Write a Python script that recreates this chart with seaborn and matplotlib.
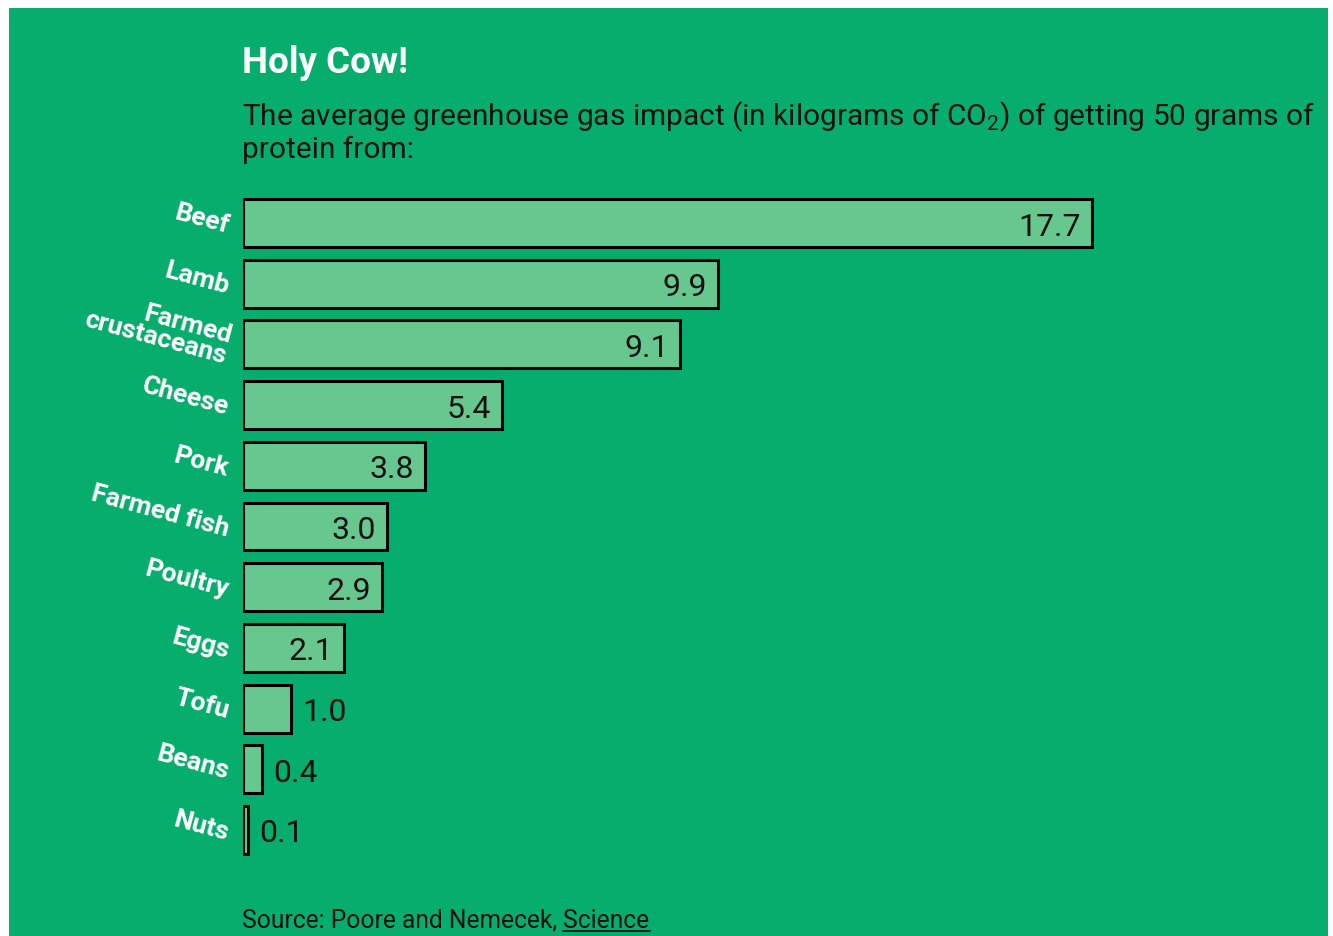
import matplotlib.pyplot as plt
import seaborn as sns
from matplotlib.patches import Rectangle
from matplotlib.lines import Line2D

# Data
foods = ["Beef", "Lamb", "Farmed\ncrustaceans", "Cheese", "Pork", "Farmed fish",
         "Poultry", "Eggs", "Tofu", "Beans", "Nuts"]
co2 = [17.7, 9.9, 9.1, 5.4, 3.8, 3.0, 2.9, 2.1, 1.0, 0.4, 0.1]
inside_min = 2.0  # values at or above this get their label inside the bar

title = "Holy Cow!"
subtitle_1 = "The average greenhouse gas impact (in kilograms of CO$_\\mathregular{2}$) of getting 50 grams of"
subtitle_2 = "protein from:"
source_txt = "Source: Poore and Nemecek, "
source_link = "Science"

# Style
sns.set_style("white")
plt.rcParams["font.family"] = ["Roboto", "DejaVu Sans"]

BG = "#07ad6c"
BAR = "#66c78f"
W, H = 1333, 937

fig = plt.figure(figsize=(W / 100, H / 100), dpi=100, facecolor="white")
fig.patches.append(Rectangle((9 / W, 0), (1328 - 9) / W, 1 - 9 / H,
                             transform=fig.transFigure, facecolor=BG,
                             edgecolor="none", zorder=-5))

# axes: x=0 at px 243, 47.97 px per unit; rows 60.7 px apart, first centre at 224
px_unit = 47.97
ax_left, ax_right = 243, 1320
row = 60.7
top_px = 224 - row / 2
bot_px = 831 + row / 2
ax = fig.add_axes([ax_left / W, 1 - bot_px / H, (ax_right - ax_left) / W, (bot_px - top_px) / H])
ax.set_facecolor("none")

sns.barplot(x=co2, y=foods, orient="h", color=BAR, saturation=1, edgecolor="black",
            linewidth=2.2, width=0.79, errorbar=None, ax=ax)

ax.set_xlim(0, (ax_right - ax_left) / px_unit)
ax.set_ylim(len(foods) - 0.5, -0.5)
ax.set_xticks([])
for s in ax.spines.values():
    s.set_visible(False)
ax.set_xlabel("")
ax.set_ylabel("")
ax.tick_params(axis="y", length=0, pad=10)
for lab in ax.get_yticklabels():
    lab.set_rotation(-15)
    lab.set_rotation_mode("anchor")
    lab.set_ha("right")
    lab.set_va("center_baseline")
    lab.set_multialignment("right")
    lab.set_linespacing(0.85)
    lab.set_color("white")
    lab.set_fontweight("bold")
    lab.set_fontsize(19)

for i, v in enumerate(co2):
    if v >= inside_min:
        ax.annotate(f"{v:.1f}", xy=(v, i), xytext=(-11, 0), textcoords="offset pixels",
                    ha="right", va="center_baseline", fontsize=23, color="#111111")
    else:
        ax.annotate(f"{v:.1f}", xy=(v, i), xytext=(11, 0), textcoords="offset pixels",
                    ha="left", va="center_baseline", fontsize=23, color="#111111")

# Titles
fig.text(242 / W, 1 - 73 / H, title, fontsize=26.5, fontweight="bold", color="white", va="baseline")
fig.text(242 / W, 1 - 125 / H, subtitle_1, fontsize=21.5, color="#111111", va="baseline")
fig.text(242 / W, 1 - 158 / H, subtitle_2, fontsize=21.5, color="#111111", va="baseline")

# Source with underlined link
src = fig.text(242 / W, 1 - 928 / H, source_txt, fontsize=17.7, color="#111111", va="baseline")
fig.canvas.draw()
bb = src.get_window_extent()
link = fig.text(bb.x1 / W, 1 - 928 / H, source_link, fontsize=17.7, color="#111111", va="baseline")
fig.canvas.draw()
lb = link.get_window_extent()
fig.add_artist(Line2D([lb.x0 / W, lb.x1 / W], [1 - 932 / H, 1 - 932 / H],
                      transform=fig.transFigure, color="#111111", linewidth=1.2))

fig.savefig("out.png", dpi=100, facecolor="white")
